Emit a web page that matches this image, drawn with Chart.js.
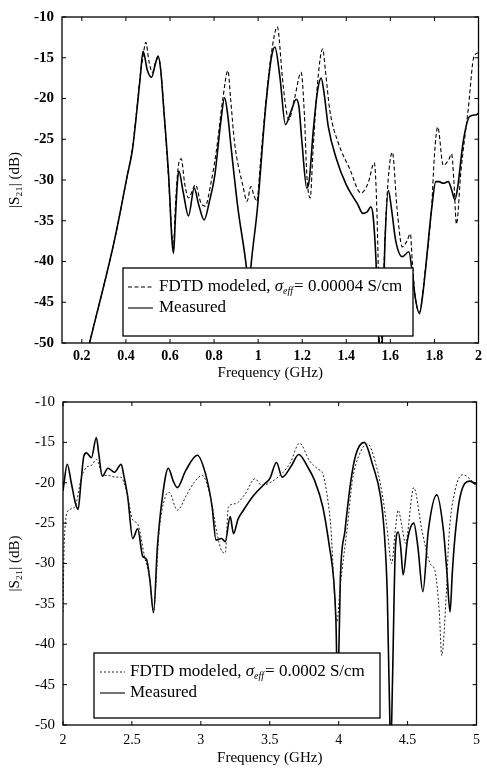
<!DOCTYPE html>
<html><head><meta charset="utf-8">
<script src="https://cdn.jsdelivr.net/npm/chart.js@4.4.1/dist/chart.umd.min.js"></script>
<style>
html,body{margin:0;padding:0;background:#fff;}
#wrap{position:relative;width:487px;height:770px;overflow:hidden;}
.c{position:absolute;left:0;width:487px;height:385px;}
</style></head><body>
<div id="wrap">
<div class="c" style="top:0"><canvas id="topChart"></canvas></div>
<div class="c" style="top:385px"><canvas id="botChart"></canvas></div>
</div>
<script>
// ---------- DATA ----------
const topXTicks = [0.2,0.4,0.6,0.8,1,1.2,1.4,1.6,1.8,2];
const topYTicks = [-50,-45,-40,-35,-30,-25,-20,-15,-10];
const botXTicks = [2,2.5,3,3.5,4,4.5,5];
const botYTicks = [-50,-45,-40,-35,-30,-25,-20,-15,-10];

const topMeasFreq = [0.20,0.235,0.348,0.406,0.43,0.45,0.465,0.478,0.497,0.516,0.535,0.546,0.558,0.572,0.594,0.609,0.616,0.624,0.633,0.64,0.66,0.684,0.71,0.73,0.755,0.78,0.803,0.83,0.848,0.862,0.875,0.908,0.948,0.958,0.966,0.997,1.033,1.06,1.076,1.099,1.124,1.15,1.173,1.185,1.199,1.221,1.232,1.25,1.27,1.286,1.3,1.318,1.355,1.4,1.452,1.475,1.495,1.512,1.522,1.535,1.548,1.555,1.563,1.575,1.591,1.605,1.624,1.654,1.684,1.7,1.714,1.732,1.745,1.758,1.788,1.806,1.82,1.84,1.863,1.878,1.893,1.905,1.93,1.96,1.99,2.0];
const topMeasDb   = [-54,-50,-37.4,-29.5,-26.2,-21.4,-17.4,-14.2,-16.5,-17.4,-15.6,-14.8,-16.5,-21.4,-29.5,-37.4,-39.0,-35,-30.5,-28.9,-31.5,-34.4,-31.0,-33,-34.9,-32.5,-29.5,-23,-19.9,-22,-25.4,-33.4,-41,-44,-41,-33.4,-21.4,-15,-13.7,-17.4,-23.2,-21.5,-20.1,-21,-25.4,-31.0,-30,-24,-19,-17.5,-19.5,-23.4,-27.4,-30.6,-33.0,-34.1,-33.9,-33.3,-34.5,-40,-50,-55,-50,-38,-31.3,-33.5,-37.4,-39.4,-38.8,-41.5,-44.6,-46.4,-44.5,-41.4,-33.4,-30.2,-30.2,-30.4,-30.2,-31.2,-32.4,-31,-25.4,-22.2,-22,-21.8];

const topFdtdFreq = [0.20,0.235,0.348,0.406,0.43,0.45,0.465,0.478,0.49,0.505,0.52,0.535,0.548,0.56,0.574,0.594,0.608,0.615,0.625,0.637,0.651,0.667,0.684,0.716,0.74,0.76,0.785,0.81,0.84,0.863,0.875,0.893,0.93,0.95,0.967,0.98,0.994,1.01,1.033,1.06,1.087,1.11,1.125,1.139,1.165,1.195,1.21,1.221,1.236,1.25,1.27,1.293,1.305,1.325,1.363,1.415,1.467,1.5,1.527,1.538,1.548,1.553,1.565,1.585,1.609,1.63,1.654,1.675,1.691,1.699,1.714,1.732,1.758,1.788,1.8,1.815,1.84,1.865,1.878,1.888,1.9,1.92,1.953,1.98,2.0];
const topFdtdDb   = [-54,-50,-37.4,-29.5,-26.0,-21.2,-17.2,-14.8,-13.1,-15.5,-16.8,-15.5,-15.0,-17,-22,-30,-36.5,-38.5,-33,-28.5,-27.4,-30.5,-32.2,-30.6,-32.8,-33.2,-30.5,-26.5,-20,-16.6,-20,-25.4,-30.6,-32.6,-30.8,-31.8,-32.6,-28,-21,-14.5,-11.2,-17.4,-21,-22.6,-20,-16.8,-22,-29.4,-32.2,-26,-18,-13.9,-16.5,-21.4,-25.4,-28.6,-31.6,-30.3,-27.9,-33,-45,-55,-45,-32,-26.6,-33.4,-38.2,-37.5,-36.6,-39.8,-44.6,-46.2,-41.2,-33,-27,-23.5,-28.2,-27.5,-26.8,-30,-35.4,-29,-21.4,-14.8,-14.4];

const botMeasFreq = [2.0,2.031,2.06,2.09,2.11,2.13,2.151,2.17,2.206,2.242,2.26,2.285,2.326,2.374,2.422,2.44,2.47,2.506,2.542,2.578,2.606,2.63,2.657,2.685,2.721,2.764,2.8,2.829,2.89,2.974,3.034,3.082,3.11,3.15,3.177,3.213,3.237,3.27,3.309,3.381,3.465,3.5,3.549,3.59,3.657,3.71,3.777,3.825,3.885,3.933,3.964,3.98,3.99,4.0,4.012,4.046,4.089,4.125,4.185,4.245,4.305,4.33,4.353,4.372,4.38,4.39,4.412,4.432,4.45,4.468,4.5,4.545,4.575,4.611,4.65,4.712,4.76,4.785,4.808,4.825,4.844,4.88,4.95,5.0];
const botMeasDb   = [-21,-17.7,-20,-22.5,-23.3,-20,-16.7,-16.3,-16.9,-14.4,-16.5,-19.2,-18.2,-18.7,-17.7,-19,-21.8,-26.9,-25.7,-29.1,-29.5,-32,-36.1,-27.9,-21.8,-18.2,-19.8,-20.6,-18.5,-16.6,-18.9,-23.0,-27.1,-26.9,-27.3,-24.2,-26.3,-24.5,-23.4,-21.6,-20.1,-19.5,-17.5,-19.3,-17.9,-16.5,-18.1,-19.7,-23.0,-27.9,-32.0,-37,-44,-42,-32,-25.9,-19.7,-16.5,-15.0,-17.7,-21.8,-25.9,-34.0,-50,-52,-45,-27.9,-26.1,-28,-31.4,-27,-25.0,-28,-33.5,-26,-21.5,-25.9,-31,-36.0,-31,-26.7,-21.8,-19.8,-20.2];

const botFdtdFreq = [2.0,2.008,2.015,2.03,2.086,2.134,2.17,2.21,2.242,2.29,2.33,2.38,2.42,2.46,2.506,2.542,2.59,2.63,2.657,2.698,2.741,2.77,2.829,2.9,2.95,3.01,3.07,3.12,3.153,3.177,3.2,3.25,3.321,3.393,3.44,3.5,3.597,3.65,3.716,3.789,3.849,3.885,3.92,3.945,3.97,3.988,4.01,4.06,4.1,4.15,4.209,4.27,4.32,4.35,4.385,4.41,4.432,4.46,4.484,4.545,4.604,4.664,4.7,4.73,4.748,4.78,4.8,4.844,4.9,4.95,5.0];
const botFdtdDb   = [-36,-28,-25.5,-23.6,-23.0,-19.3,-18.1,-17.8,-17.1,-19.1,-19.1,-19.3,-19.3,-21,-24.6,-25.1,-29,-32,-35.8,-25.9,-21.8,-21.2,-23.4,-21.4,-20,-19.1,-21.8,-26.5,-28.5,-28.7,-23.0,-22.6,-21.4,-19.5,-20.3,-20.0,-18.7,-17.5,-15.1,-17.3,-18.3,-18.9,-22,-25.9,-34,-37.2,-33,-25.9,-19.7,-16.5,-15.2,-17.7,-21.8,-25.5,-30,-26,-23.4,-25.5,-27.5,-20.6,-25.9,-30.0,-31,-36,-41.4,-34.0,-26.7,-21.0,-19.0,-19.5,-20.5];

const topLegend = { pre: 'FDTD modeled, ', sym: '\u03C3', sub: 'eff', post: '= 0.00004 S/cm', meas: 'Measured' };
const botLegend = { pre: 'FDTD modeled, ', sym: '\u03C3', sub: 'eff', post: '= 0.0002 S/cm', meas: 'Measured' };

const xTitle = 'Frequency (GHz)';
const yTitle = '|S\u2082\u2081| (dB)';

// ---------- PLUGINS ----------
const SERIF = '"Liberation Serif", "Times New Roman", serif';
const framePlugin = {
  id: 'frame',
  afterDatasetsDraw(chart) {
    const {ctx, chartArea: a, scales: {x, y}} = chart;
    ctx.save();
    ctx.strokeStyle = '#000'; ctx.lineWidth = 1.3;
    ctx.strokeRect(a.left, a.top, a.width, a.height);
    const L = 4;
    ctx.lineWidth = 1;
    ctx.beginPath();
    x.ticks.forEach(t => { const p = x.getPixelForValue(t.value);
      ctx.moveTo(p, a.bottom); ctx.lineTo(p, a.bottom - L);
      ctx.moveTo(p, a.top); ctx.lineTo(p, a.top + L); });
    y.ticks.forEach(t => { const p = y.getPixelForValue(t.value);
      ctx.moveTo(a.left, p); ctx.lineTo(a.left + L, p);
      ctx.moveTo(a.right, p); ctx.lineTo(a.right - L, p); });
    ctx.stroke();
    ctx.restore();
  }
};
const boxLegendPlugin = {
  id: 'boxLegend',
  afterDraw(chart, args, o) {
    const ctx = chart.ctx;
    const ds = chart.data.datasets;
    ctx.save();
    ctx.fillStyle = '#fff';
    ctx.fillRect(o.box[0], o.box[1], o.box[2]-o.box[0], o.box[3]-o.box[1]);
    ctx.strokeStyle = '#000'; ctx.lineWidth = 1.3;
    ctx.strokeRect(o.box[0], o.box[1], o.box[2]-o.box[0], o.box[3]-o.box[1]);
    [0,1].forEach(i => {
      ctx.beginPath();
      ctx.strokeStyle = ds[i].borderColor;
      ctx.lineWidth = i === 0 ? ds[i].borderWidth : 1.1;
      ctx.setLineDash(ds[i].borderDash || []);
      ctx.moveTo(o.lineX[0], o.rows[i]); ctx.lineTo(o.lineX[1], o.rows[i]);
      ctx.stroke();
    });
    ctx.setLineDash([]);
    ctx.fillStyle = '#000';
    ctx.textBaseline = 'middle';
    const fs = o.fontSize;
    const p = o.parts;
    let x = o.textX;
    ctx.font = fs + 'px ' + SERIF;
    ctx.fillText(p.pre, x, o.rows[0]); x += ctx.measureText(p.pre).width;
    ctx.font = 'italic ' + fs + 'px ' + SERIF;
    ctx.fillText(p.sym, x, o.rows[0]); x += ctx.measureText(p.sym).width;
    ctx.font = 'italic ' + Math.round(fs*0.6) + 'px ' + SERIF;
    ctx.fillText(p.sub, x, o.rows[0] + fs*0.28); x += ctx.measureText(p.sub).width + 1;
    ctx.font = fs + 'px ' + SERIF;
    ctx.fillText(p.post, x, o.rows[0]);
    ctx.fillText(p.meas, o.textX, o.rows[1]);
    ctx.restore();
  }
};

function pts(fx, fy) { return fx.map((f, i) => ({x: f, y: fy[i]})); }

function makeChart(id, cfg) {
  return new Chart(document.getElementById(id), {
    type: 'line',
    data: { datasets: [
      { label: cfg.legend.pre + cfg.legend.sym + cfg.legend.sub + ' ' + cfg.legend.post,
        data: pts(cfg.fdtdF, cfg.fdtdD), borderColor: cfg.dashColor, borderWidth: cfg.dashWidth,
        borderDash: cfg.dash, pointRadius: 0, cubicInterpolationMode: 'monotone', fill: false },
      { label: cfg.legend.meas,
        data: pts(cfg.measF, cfg.measD), borderColor: '#000', borderWidth: 1.6,
        pointRadius: 0, cubicInterpolationMode: 'monotone', fill: false }
    ]},
    options: {
      responsive: true, maintainAspectRatio: false, animation: false,
      layout: { padding: { top: cfg.padTop, right: cfg.padRight, left: 0, bottom: 0 } },
      plugins: { legend: { display: false }, tooltip: { enabled: false },
        boxLegend: cfg.legendBox },
      scales: {
        x: { type: 'linear', min: cfg.xmin, max: cfg.xmax,
          afterBuildTicks: s => { s.ticks = cfg.xTicks.map(v => ({value: v})); },
          afterFit: s => { s.height = cfg.xh; },
          grid: { display: false, drawTicks: false }, border: { display: false },
          ticks: { color: '#000', padding: cfg.xPad, maxRotation: 0, autoSkip: false,
            font: { family: SERIF, size: 14, weight: cfg.tickWeight },
            callback: v => String(+v.toFixed(2)) },
          title: { display: true, text: xTitle, color: '#000', padding: {top: 2, bottom: 3},
            font: { family: SERIF, size: 15 } } },
        y: { type: 'linear', min: -50, max: -10,
          afterBuildTicks: s => { s.ticks = cfg.yTicks.map(v => ({value: v})); },
          afterFit: s => { s.width = cfg.yw; },
          grid: { display: false, drawTicks: false }, border: { display: false },
          ticks: { color: '#000', padding: 8, autoSkip: false,
            font: { family: SERIF, size: 15, weight: cfg.tickWeight },
            callback: v => String(v) },
          title: { display: true, text: yTitle, color: '#000', padding: {top: 6, bottom: 0},
            font: { family: SERIF, size: 15 } } }
      }
    },
    plugins: [framePlugin, boxLegendPlugin]
  });
}

makeChart('topChart', {
  fdtdF: topFdtdFreq, fdtdD: topFdtdDb, measF: topMeasFreq, measD: topMeasDb,
  legend: topLegend, dash: [4, 2.5], dashColor: '#000', dashWidth: 1.1,
  xmin: 0.11, xmax: 2.0, xTicks: topXTicks, yTicks: topYTicks,
  padTop: 10, padRight: 3, xh: 42, yw: 62, xPad: 5, tickWeight: 'bold',
  legendBox: { box: [123, 268, 413, 336], lineX: [128, 153], rows: [287, 308], textX: 159, fontSize: 17, parts: topLegend }
});
makeChart('botChart', {
  fdtdF: botFdtdFreq, fdtdD: botFdtdDb, measF: botMeasFreq, measD: botMeasDb,
  legend: botLegend, dash: [2, 2], dashColor: '#222', dashWidth: 1,
  xmin: 2, xmax: 5, xTicks: botXTicks, yTicks: botYTicks,
  padTop: 14, padRight: 7, xh: 45, yw: 63, xPad: 7, tickWeight: 'normal',
  legendBox: { box: [94, 268, 380, 333], lineX: [100, 125], rows: [287, 308], textX: 130, fontSize: 17, parts: botLegend }
});
</script>
</body></html>
